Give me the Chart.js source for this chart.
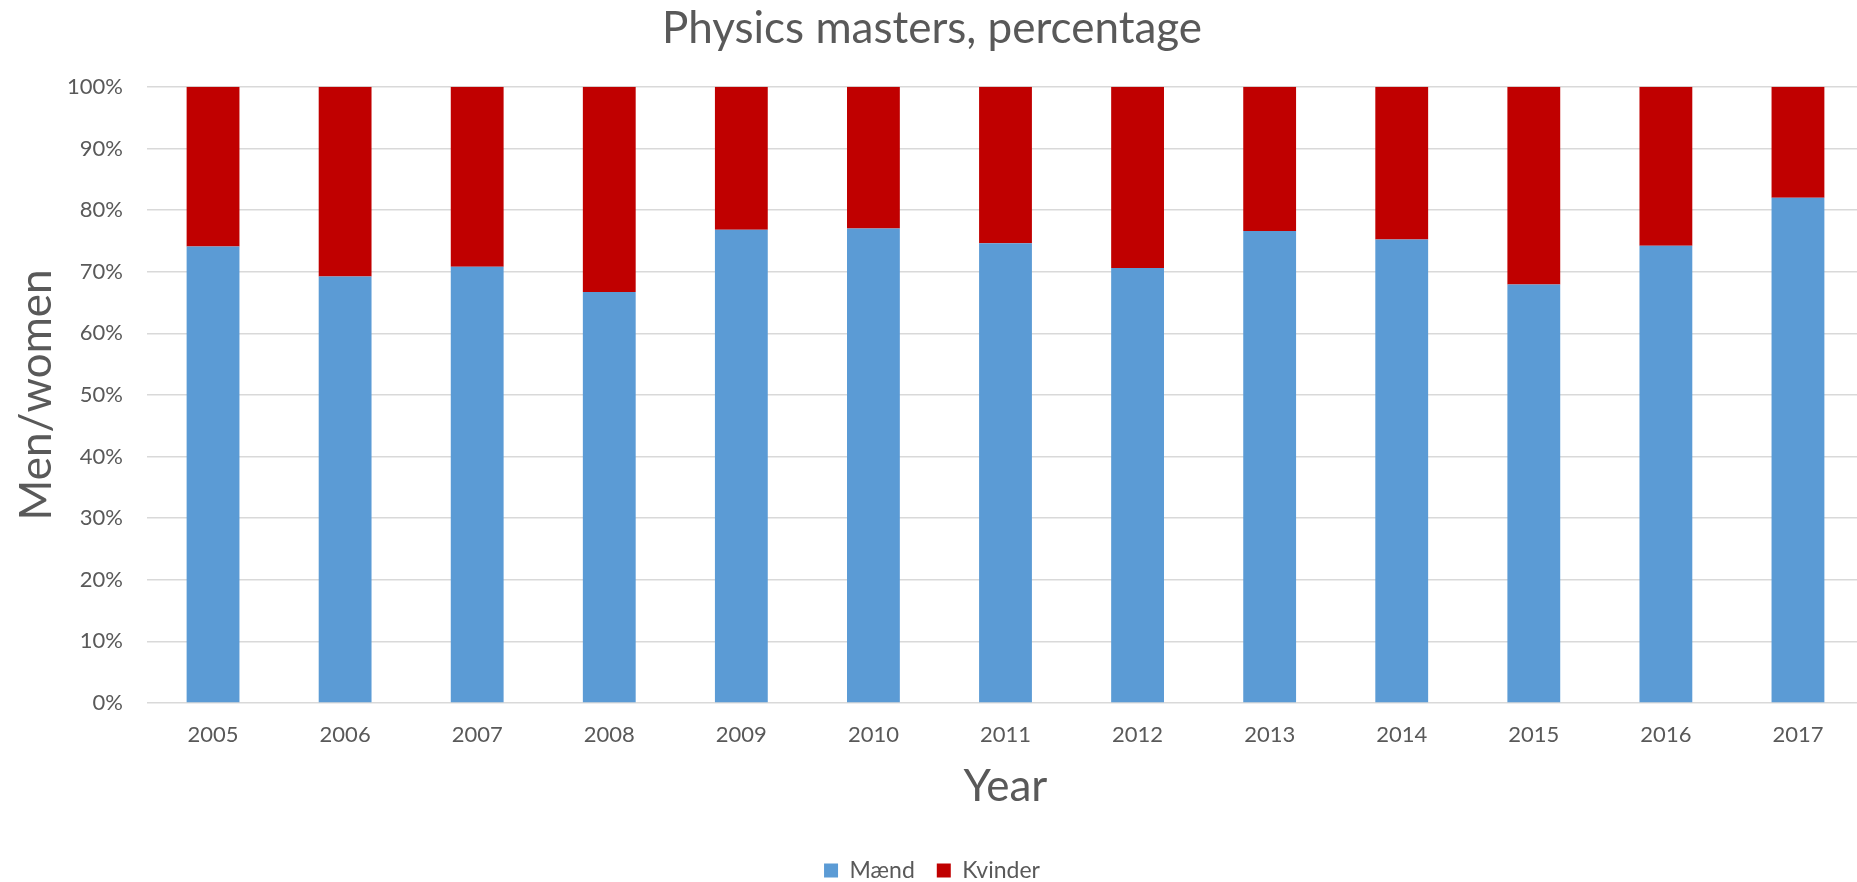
<!DOCTYPE html>
<html>
<head>
<meta charset="utf-8">
<script src="https://cdn.jsdelivr.net/npm/chart.js@4"></script>
<style>
  html, body { margin: 0; padding: 0; background: #fff; overflow: hidden; }
  #wrap { width: 1857px; height: 882px; overflow: hidden; }
</style>
</head>
<body>
<div id="wrap"><canvas id="chart" width="1864" height="892"></canvas></div>
<script>
const years = ['2005', '2006', '2007', '2008', '2009', '2010', '2011', '2012', '2013', '2014', '2015', '2016', '2017'];
const maend = [74.1, 69.2, 70.8, 66.7, 76.8, 77.0, 74.6, 70.6, 76.6, 75.2, 67.9, 74.2, 82.0];
const kvinder = [25.9, 30.8, 29.2, 33.3, 23.2, 23.0, 25.4, 29.4, 23.4, 24.8, 32.1, 25.8, 18.0];

const textColor = '#595959';
const fontFamily = 'Lato, "Open Sans", sans-serif';

function drawStackedChart(element) {
  const ctx = document.getElementById(element);
  return new Chart(ctx, {
    type: 'bar',
    data: {
      labels: years,
      datasets: [
        { label: 'Mænd', data: maend, backgroundColor: '#5B9BD5' },
        { label: 'Kvinder', data: kvinder, backgroundColor: '#C00000' },
      ],
    },
    options: {
      responsive: false,
      animation: false,
      categoryPercentage: 0.4,
      barPercentage: 1,
      layout: { padding: 0 },
      plugins: {
        title: {
          display: true,
          text: 'Physics masters, percentage',
          color: textColor,
          font: { family: fontFamily, size: 44, weight: 'normal' },
          padding: { top: 2, bottom: 32 },
        },
        legend: {
          position: 'bottom',
          labels: {
            color: textColor,
            font: { family: fontFamily, size: 23 },
            boxWidth: 14,
            boxHeight: 14,
            padding: 22,
          },
        },
        tooltip: { enabled: false },
      },
      scales: {
        x: {
          stacked: true,
          grid: { display: false },
          border: { display: false },
          ticks: { color: textColor, font: { family: fontFamily, size: 22 }, padding: 11 },
          title: {
            display: true,
            text: 'Year',
            color: textColor,
            font: { family: fontFamily, size: 44 },
            padding: { top: 0, bottom: 24 },
          },
          afterFit: (scale) => { scale.height = 134; },
        },
        y: {
          stacked: true,
          min: 0,
          max: 100,
          grid: { color: '#D9D9D9', lineWidth: 1.5, drawTicks: false },
          border: { display: false },
          ticks: {
            stepSize: 10,
            color: textColor,
            font: { family: fontFamily, size: 22 },
            padding: 24,
            callback: (v) => v + '%',
          },
          title: {
            display: true,
            text: 'Men/women',
            color: textColor,
            font: { family: fontFamily, size: 44 },
            padding: { top: 10, bottom: 0 },
          },
          afterFit: (scale) => { scale.width = 147; },
        },
      },
    },
  });
}

drawStackedChart('chart');
</script>
</body>
</html>
